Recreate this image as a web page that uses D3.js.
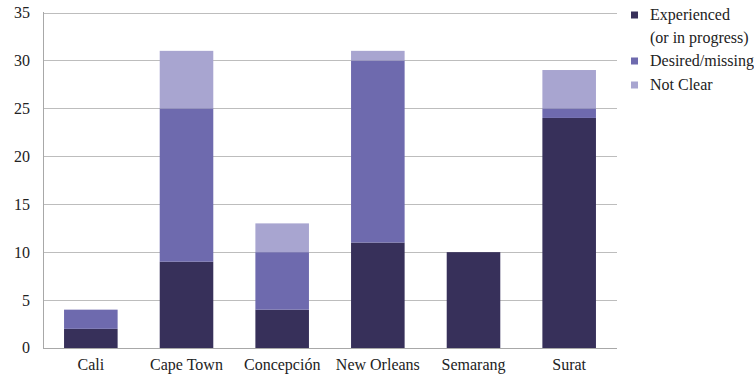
<!DOCTYPE html>
<html><head><meta charset="utf-8">
<script src="https://cdn.jsdelivr.net/npm/d3@7"></script>
</head><body style="margin:0"><svg id="c" width="754" height="378" style="display:block"></svg>
<script>
const categories = ["Cali","Cape Town","Concepción","New Orleans","Semarang","Surat"];
const experienced = [2,9,4,11,10,24];
const desired = [2,16,6,19,0,1];
const notClear = [0,6,3,1,0,4];
const seriesNames = ["Experienced|(or in progress)","Desired/missing","Not Clear"];
const colors = ["#37305a","#6e6aae","#a8a5d0"];
const yTicks = [0,5,10,15,20,25,30,35];

const FONT = "Times New Roman";
const svg = d3.select("#c");
const x = d3.scaleBand().domain(categories).range([43,617]).paddingInner(0.44).paddingOuter(0.22);
const y = d3.scaleLinear().domain([0,35]).range([348,12.5]);

const rows = categories.map((c,i)=>({cat:c, e:experienced[i], d:desired[i], n:notClear[i]}));
const stack = d3.stack().keys(["e","d","n"])(rows);

svg.append("g").selectAll("line").data(yTicks.filter(t=>t>0)).join("line")
  .attr("x1",43).attr("x2",617).attr("y1",d=>Math.round(y(d))+0.5).attr("y2",d=>Math.round(y(d))+0.5)
  .attr("stroke","#bdbdbd").attr("stroke-width",1);

svg.append("g").selectAll("g").data(stack).join("g").attr("fill",(d,i)=>colors[i])
  .selectAll("rect").data(d=>d.filter(p=>p[1]-p[0]>0)).join("rect")
  .attr("x",d=>x(d.data.cat)).attr("width",x.bandwidth())
  .attr("y",d=>y(d[1])).attr("height",d=>y(d[0])-y(d[1]));

svg.append("line").attr("x1",43.5).attr("x2",43.5).attr("y1",12).attr("y2",348).attr("stroke","#a8a8a8");
svg.append("line").attr("x1",43).attr("x2",617).attr("y1",348.5).attr("y2",348.5).attr("stroke","#a8a8a8");

const gy = svg.append("g").attr("font-family",FONT);
gy.selectAll("text").data(yTicks).join("text")
  .attr("x",30).attr("y",d=>y(d)).attr("dy","0.34em").attr("text-anchor","end")
  .attr("font-family",FONT).attr("font-size",16).attr("fill","#222").text(d=>d);

const gx = svg.append("g").attr("font-family",FONT);
gx.selectAll("text").data(categories).join("text")
  .attr("x",d=>x(d)+x.bandwidth()/2).attr("y",370).attr("text-anchor","middle")
  .attr("font-family",FONT).attr("font-size",16).attr("fill","#222").text(d=>d);

const legY = [15,61,85];
const lg = svg.append("g").attr("font-family",FONT);
seriesNames.forEach((name,i)=>{
  lg.append("rect").attr("x",631).attr("y",legY[i]-3.5).attr("width",7).attr("height",7).attr("fill",colors[i]);
  name.split("|").forEach((line,j)=>{
    lg.append("text").attr("x",650).attr("y",legY[i]+5+j*23)
      .attr("font-family",FONT).attr("font-size",16).attr("fill","#222").text(line);
  });
});
</script></body></html>
